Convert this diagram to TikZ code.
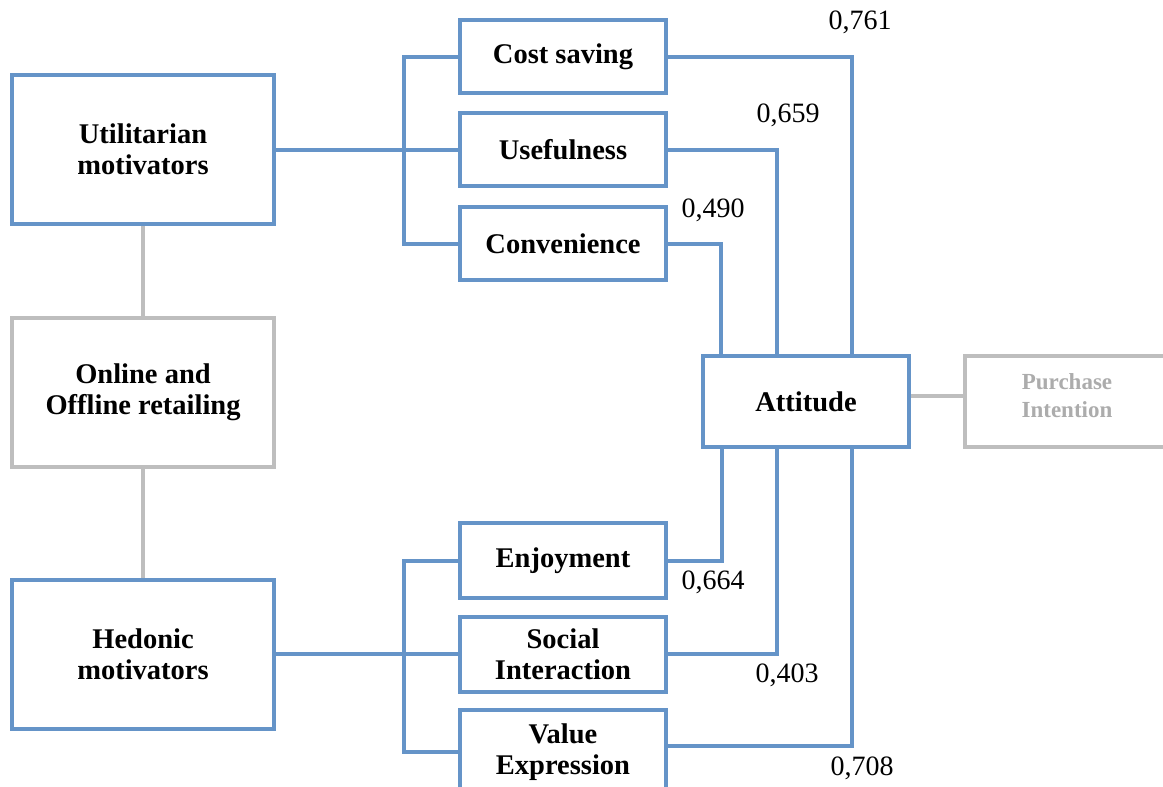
\documentclass[tikz,border=0pt]{standalone}
\usepackage{fontspec}
\setmainfont{Liberation Serif}
\begin{document}
\begin{tikzpicture}[x=1pt,y=-1pt,
  linkblue/.style={draw=blueline, line width=4pt},
  linkgray/.style={draw=grayline, line width=4pt},
  mbox/.style={draw=blueline, line width=4pt, fill=white, rectangle,
    align=center, inner sep=0pt,
    font=\bfseries\fontsize{28.5}{31}\selectfont},
  gbox/.style={mbox, draw=grayline},
  coef/.style={font=\fontsize{28}{31}\selectfont, inner sep=0pt}]
\definecolor{blueline}{RGB}{101,148,200}
\definecolor{grayline}{RGB}{190,190,190}
\definecolor{graytext}{RGB}{172,172,172}
\useasboundingbox (0,0) rectangle (1163,787);
\clip (0,0) rectangle (1163,787);

% left column: motivators and retailing context
\node[mbox, minimum width=262pt, minimum height=149pt] (util) at (143,149.5) {Utilitarian\\motivators};
\node[gbox, minimum width=262pt, minimum height=149pt] (online) at (143,392.5) {Online and\\Offline retailing};
\node[mbox, minimum width=262pt, minimum height=149pt] (hedo) at (143,654) {Hedonic\\motivators};

% utilitarian dimensions
\node[mbox, minimum width=206pt, minimum height=73pt] (cost) at (563,56.5) {Cost saving};
\node[mbox, minimum width=206pt, minimum height=73pt] (usef) at (563,149.5) {Usefulness};
\node[mbox, minimum width=206pt, minimum height=73pt] (conv) at (563,243.5) {Convenience};

% hedonic dimensions
\node[mbox, minimum width=206pt, minimum height=75pt] (enjo) at (563,560.5) {Enjoyment};
\node[mbox, minimum width=206pt, minimum height=75pt] (soci) at (563,654) {Social\\Interaction};
\node[mbox, minimum width=206pt, minimum height=84pt] (valu) at (563,752) {Value\\Expression};

% outcome
\node[mbox, minimum width=206pt, minimum height=91pt] (atti) at (806,401.5) {Attitude};
\node[gbox, minimum width=206pt, minimum height=91pt] (purc) at (1068,401.5) {};
\node[text=graytext, align=center, inner sep=0pt,
  font=\bfseries\fontsize{23}{28}\selectfont] (purctext) at (1067,396) {Purchase\\Intention};

% grey links
\draw[linkgray] (util.south) -- (online.north);
\draw[linkgray] (online.south) -- (hedo.north);
\draw[linkgray] ([yshift=6pt]atti.east) -- ([yshift=6pt]purc.west);

% motivators to dimensions
\coordinate (ubr) at (404,150);
\coordinate (hbr) at (404,654);
\draw[linkblue] (util.east) -- (usef.west);
\draw[linkblue] (cost.west) -| (ubr) |- (conv.west);
\draw[linkblue] (hedo.east) -- (soci.west);
\draw[linkblue] (enjo.west) -| (hbr) |- (valu.west);

% dimensions to attitude
\draw[linkblue] (cost.east) -| ([xshift=46pt]atti.north);
\draw[linkblue] (usef.east) -| ([xshift=-29pt]atti.north);
\draw[linkblue] (conv.east) -| ([xshift=-85pt]atti.north);
\draw[linkblue] (enjo.east) -| ([xshift=-84pt]atti.south);
\draw[linkblue] (soci.east) -| ([xshift=-29pt]atti.south);
\draw[linkblue] ([yshift=6pt]valu.east) -| ([xshift=46pt]atti.south);

% path coefficients
\node[coef] (c1) at (860,22) {0,761};
\node[coef] (c2) at (788,115) {0,659};
\node[coef] (c3) at (713,210) {0,490};
\node[coef] (c4) at (713,582) {0,664};
\node[coef] (c5) at (787,675) {0,403};
\node[coef] (c6) at (862,768) {0,708};
\end{tikzpicture}
\end{document}
